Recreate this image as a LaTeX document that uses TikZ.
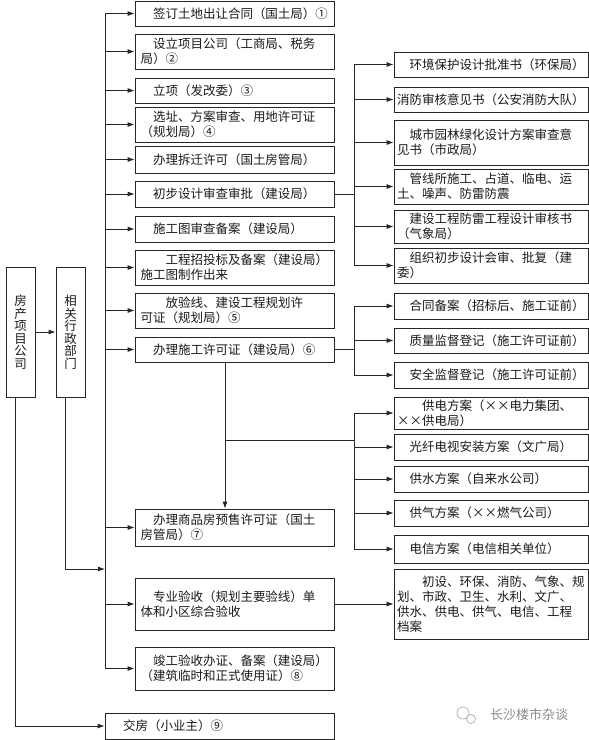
\documentclass[tikz,border=0pt]{standalone}
\usepackage{fontspec}
\newfontfamily\cjk{Noto Sans CJK SC}
\usetikzlibrary{arrows.meta,positioning,calc}

\newcommand{\indt}{\hspace*{1em}}

\tikzset{
    conn/.style={draw=black!85, line width=0.8pt},
    arr/.style={conn, -{Latex[length=7pt,width=5pt]}},
    procbox/.style={conn, rectangle, align=left, inner xsep=5.5pt, inner ysep=1pt,
        font=\cjk\fontsize{12.5}{15}\selectfont, text=black!90},
    leftbox/.style={procbox, text width=188pt},
    rightbox/.style={procbox, inner xsep=3pt, text width=188pt},
    vertbox/.style={conn, rectangle, align=center, minimum width=29pt, minimum height=130pt,
        font=\cjk\fontsize{12.5}{12.5}\selectfont, text=black!90}
}

\begin{document}
\begin{tikzpicture}[x=1pt, y=-1pt]
    \useasboundingbox (0,0) rectangle (589,740);

    \node[vertbox] (company) at (20.5,332) {房\\产\\项\\目\\公\\司};
    \node[vertbox] (admin) at (70.5,332) {相\\关\\行\\政\\部\\门};

    \node[leftbox, minimum height=25pt] (s1) at (234.5,13.5) {\indt 签订土地出让合同（国土局）①};
    \node[leftbox, minimum height=35pt] (s2) at (234.5,51.5) {\indt 设立项目公司（工商局、税务\\局）②};
    \node[leftbox, minimum height=25pt] (s3) at (234.5,90.5) {\indt 立项（发改委）③};
    \node[leftbox, minimum height=35pt] (s4) at (234.5,124.5) {\indt 选址、方案审查、用地许可证\\（规划局）④};
    \node[leftbox, minimum height=27pt] (s5) at (234.5,159.5) {\indt 办理拆迁许可（国土房管局）};
    \node[leftbox, minimum height=26pt] (s6) at (234.5,194) {\indt 初步设计审查审批（建设局）};
    \node[leftbox, minimum height=26pt] (s7) at (234.5,229) {\indt 施工图审查备案（建设局）};
    \node[leftbox, minimum height=35pt] (s8) at (234.5,267.5) {\hspace*{2em}工程招投标及备案（建设局）\\施工图制作出来};
    \node[leftbox, minimum height=35pt] (s9) at (234.5,310.5) {\hspace*{2em}放验线、建设工程规划许\\可证（规划局）⑤};
    \node[leftbox, minimum height=25pt] (s10) at (234.5,349.5) {\indt 办理施工许可证（建设局）⑥};
    \node[leftbox, minimum height=37pt] (s11) at (234.5,527.5) {\indt 办理商品房预售许可证（国土\\房管局）⑦};
    \node[leftbox, minimum height=52pt] (s12) at (234.5,604) {\indt 专业验收（规划主要验线）单\\体和小区综合验收};
    \node[leftbox, minimum height=43pt] (s13) at (234.5,668.5) {\indt 竣工验收办证、备案（建设局）\\（建筑临时和正式使用证）⑧};
    \node[leftbox, text width=218pt, minimum height=26pt] (s14) at (219.5,726) {\indt 交房（小业主）⑨};

    \node[rightbox, minimum height=25pt] (r1) at (491,64.5) {\indt 环境保护设计批准书（环保局）};
    \node[rightbox, minimum height=25pt] (r2) at (491,99.5) {消防审核意见书（公安消防大队）};
    \node[rightbox, minimum height=45pt] (r3) at (491,142.5) {\indt 城市园林绿化设计方案审查意\\见书（市政局）};
    \node[rightbox, minimum height=35pt] (r4) at (491,186.5) {\indt 管线所施工、占道、临电、运\\土、噪声、防雷防震};
    \node[rightbox, minimum height=33pt] (r5) at (491,226.5) {\indt 建设工程防雷工程设计审核书\\（气象局）};
    \node[rightbox, minimum height=35pt] (r6) at (491,265.5) {\indt 组织初步设计会审、批复（建\\委）};
    \node[rightbox, minimum height=26pt] (r7) at (491,306) {\indt 合同备案（招标后、施工证前）};
    \node[rightbox, minimum height=25pt] (r8) at (491,340.5) {\indt 质量监督登记（施工许可证前）};
    \node[rightbox, minimum height=26pt] (r9) at (491,375) {\indt 安全监督登记（施工许可证前）};
    \node[rightbox, minimum height=32pt] (r10) at (491,413) {\hspace*{2em}供电方案（××电力集团、\\××供电局）};
    \node[rightbox, minimum height=26pt] (r11) at (491,447) {\indt 光纤电视安装方案（文广局）};
    \node[rightbox, minimum height=26pt] (r12) at (491,479) {\indt 供水方案（自来水公司）};
    \node[rightbox, minimum height=26pt] (r13) at (491,513) {\indt 供气方案（××燃气公司）};
    \node[rightbox, minimum height=28pt] (r14) at (491,549) {\indt 电信方案（电信相关单位）};
    \node[rightbox, minimum height=70pt] (r15) at (491,604) {\hspace*{2em}初设、环保、消防、气象、规\\划、市政、卫生、水利、文广、\\供水、供电、供气、电信、工程\\档案};

    \coordinate (busL) at (105,0);
    \coordinate (busR) at (354,0);
    \coordinate (adminin) at (105,569);
    \coordinate (tap) at (225,440);

    \draw[arr] (company.east) -- (admin.west);
    \draw[conn] (busL |- s1.west) -- (busL |- s13.west);
    \foreach \i in {1,...,13}
        \draw[arr] (busL |- s\i.west) -- (s\i.west);
    \draw[arr] ([xshift=-5.5pt]company.south) |- (s14.west);
    \draw[arr] ([xshift=-5.5pt]admin.south) |- (adminin);

    \draw[conn] (s6.east) -- (busR |- s6.east);
    \draw[conn] (busR |- r1.west) -- (busR |- r6.west);
    \foreach \i in {1,...,6}
        \draw[arr] (busR |- r\i.west) -- (r\i.west);

    \draw[conn] (s10.east) -- (busR |- s10.east);
    \draw[conn] (busR |- r7.west) -- (busR |- r9.west);
    \foreach \i in {7,8,9}
        \draw[arr] (busR |- r\i.west) -- (r\i.west);

    \draw[arr] ([xshift=-9.5pt]s10.south) -- ([xshift=-9.5pt]s11.north);
    \draw[conn] (tap) -- (busR |- tap);
    \draw[conn] (busR |- r10.west) -- (busR |- r14.west);
    \foreach \i in {10,...,14}
        \draw[arr] (busR |- r\i.west) -- (r\i.west);

    \draw[arr] (s12.east) -- (r15.west);

    % watermark
    \draw[black!35, line width=0.6pt] (463,713) circle[radius=6pt] (471,719) circle[radius=4.5pt];
    \node[font=\cjk\fontsize{13}{13}\selectfont, text=black!45] (mark) at (529,715) {长沙楼市杂谈};
\end{tikzpicture}
\end{document}
